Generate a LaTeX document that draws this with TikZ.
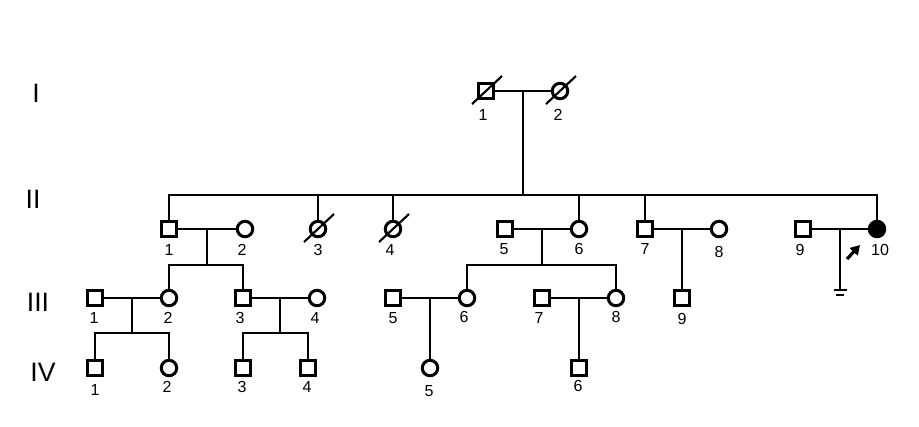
\documentclass[tikz,border=0pt]{standalone}
\usepackage{fontspec}
\setmainfont{Liberation Sans}
\usetikzlibrary{arrows.meta, calc}

\begin{document}
\begin{tikzpicture}[
    x=0.75pt, y=-0.75pt,
    line width=1.5pt,
    male/.style={draw, rectangle, line width=2.25pt, minimum size=11.25pt, inner sep=0pt},
    female/.style={draw, circle, line width=2.25pt, minimum size=11.6pt, inner sep=0pt},
    affected/.style={fill=black},
    num/.style={font=\fontsize{12}{12}\selectfont, inner sep=0pt},
    gen/.style={font=\fontsize{20}{20}\selectfont, inner sep=0pt},
    slash/.style={line width=1.6pt},
    proband/.style={-{Triangle[length=7pt,width=8pt]}, line width=2.4pt},
  ]
  \useasboundingbox (0,0) rectangle (919,426);

  % --- generation labels ---
  \node[gen] (gI)   at (36,93)  {I};
  \node[gen] (gII)  at (33,199) {II};
  \node[gen] (gIII) at (38,302) {III};
  \node[gen] (gIV)  at (43,372) {IV};

  % --- generation I ---
  \node[male]   (I1) at (486,91) {};
  \node[female] (I2) at (560,91) {};
  \foreach \n/\x in {1/483,2/558} \node[num] (nI\n) at (\x,115) {\n};

  % --- generation II ---
  \foreach \n/\x in {1/169,5/505,7/645,9/803}
    \node[male] (II\n) at (\x,229) {};
  \foreach \n/\x in {2/245,3/318,4/393,6/579,8/719}
    \node[female] (II\n) at (\x,229) {};
  \node[female, affected] (II10) at (877,229) {};
  \foreach \n/\x/\y in {1/169/250, 2/242/250, 3/318/250, 4/390/250, 5/504/249,
                        6/579/249, 7/645/249, 8/719/252, 9/800/250, 10/880/250}
    \node[num] (nII\n) at (\x,\y) {\n};

  % --- generation III ---
  \foreach \n/\x in {1/95,3/243,5/393,7/542,9/682}
    \node[male] (III\n) at (\x,298) {};
  \foreach \n/\x in {2/169,4/317,6/467,8/616}
    \node[female] (III\n) at (\x,298) {};
  \foreach \n/\x/\y in {1/94/318, 2/168/318, 3/240/318, 4/315/318, 5/393/318,
                        6/464/317, 7/539/318, 8/616/317, 9/682/319}
    \node[num] (nIII\n) at (\x,\y) {\n};

  % --- generation IV ---
  \foreach \n/\x in {1/95,3/243,4/308,6/579}
    \node[male] (IV\n) at (\x,368) {};
  \foreach \n/\x in {2/169,5/430}
    \node[female] (IV\n) at (\x,368) {};
  \foreach \n/\x/\y in {1/95/390, 2/167/387, 3/242/387, 4/307/387, 5/429/391, 6/578/386}
    \node[num] (nIV\n) at (\x,\y) {\n};

  % --- deceased ---
  \foreach \c in {I1,I2,II3,II4}
    \draw[slash] ($(\c)+(-14,13)$) -- ($(\c)+(16,-15)$);

  % --- mating lines ---
  \foreach \a/\b in {I1/I2, II1/II2, II5/II6, II7/II8, II9/II10,
                     III1/III2, III3/III4, III5/III6, III7/III8} {
    \draw (\a) -- (\b);
    \coordinate (m\a) at ($(\a)!0.5!(\b)$);
  }

  % --- I -> II ---
  \coordinate (sII) at ($(mI1)+(0,104)$);
  \draw (mI1) -- (sII);
  \draw (II1.north) |- (sII) -| (II10.north);
  \foreach \c in {II3,II4,II6,II7}
    \draw (\c.north) -- (\c |- sII);

  % --- II -> III ---
  \coordinate (sIIIa) at ($(mII1)+(0,36)$);
  \draw (mII1) -- (sIIIa);
  \draw (III2.north) |- (sIIIa) -| (III3.north);
  \coordinate (sIIIb) at ($(mII5)+(0,36)$);
  \draw (mII5) -- (sIIIb);
  \draw (III6.north) |- (sIIIb) -| (III8.north);
  \draw (mII7) -- (III9.north);

  % --- no offspring (II-9 x II-10) ---
  \coordinate (nk) at ($(mII9)+(0,61)$);
  \draw (mII9) -- (nk);
  \draw ($(nk)+(-6.5,0)$) -- ($(nk)+(6.5,0)$);
  \draw ($(nk)+(-4,5)$) -- ($(nk)+(4,5)$);

  % --- proband ---
  \coordinate (pa) at ($(II10)+(-30,30)$);
  \coordinate (pb) at ($(II10)+(-17,16)$);
  \draw[proband] (pa) -- (pb);

  % --- III -> IV ---
  \coordinate (sIVa) at ($(mIII1)+(0,35)$);
  \draw (mIII1) -- (sIVa);
  \draw (IV1.north) |- (sIVa) -| (IV2.north);
  \coordinate (sIVb) at ($(mIII3)+(0,35)$);
  \draw (mIII3) -- (sIVb);
  \draw (IV3.north) |- (sIVb) -| (IV4.north);
  \draw (mIII5) -- (IV5.north);
  \draw (mIII7) -- (IV6.north);
\end{tikzpicture}
\end{document}
